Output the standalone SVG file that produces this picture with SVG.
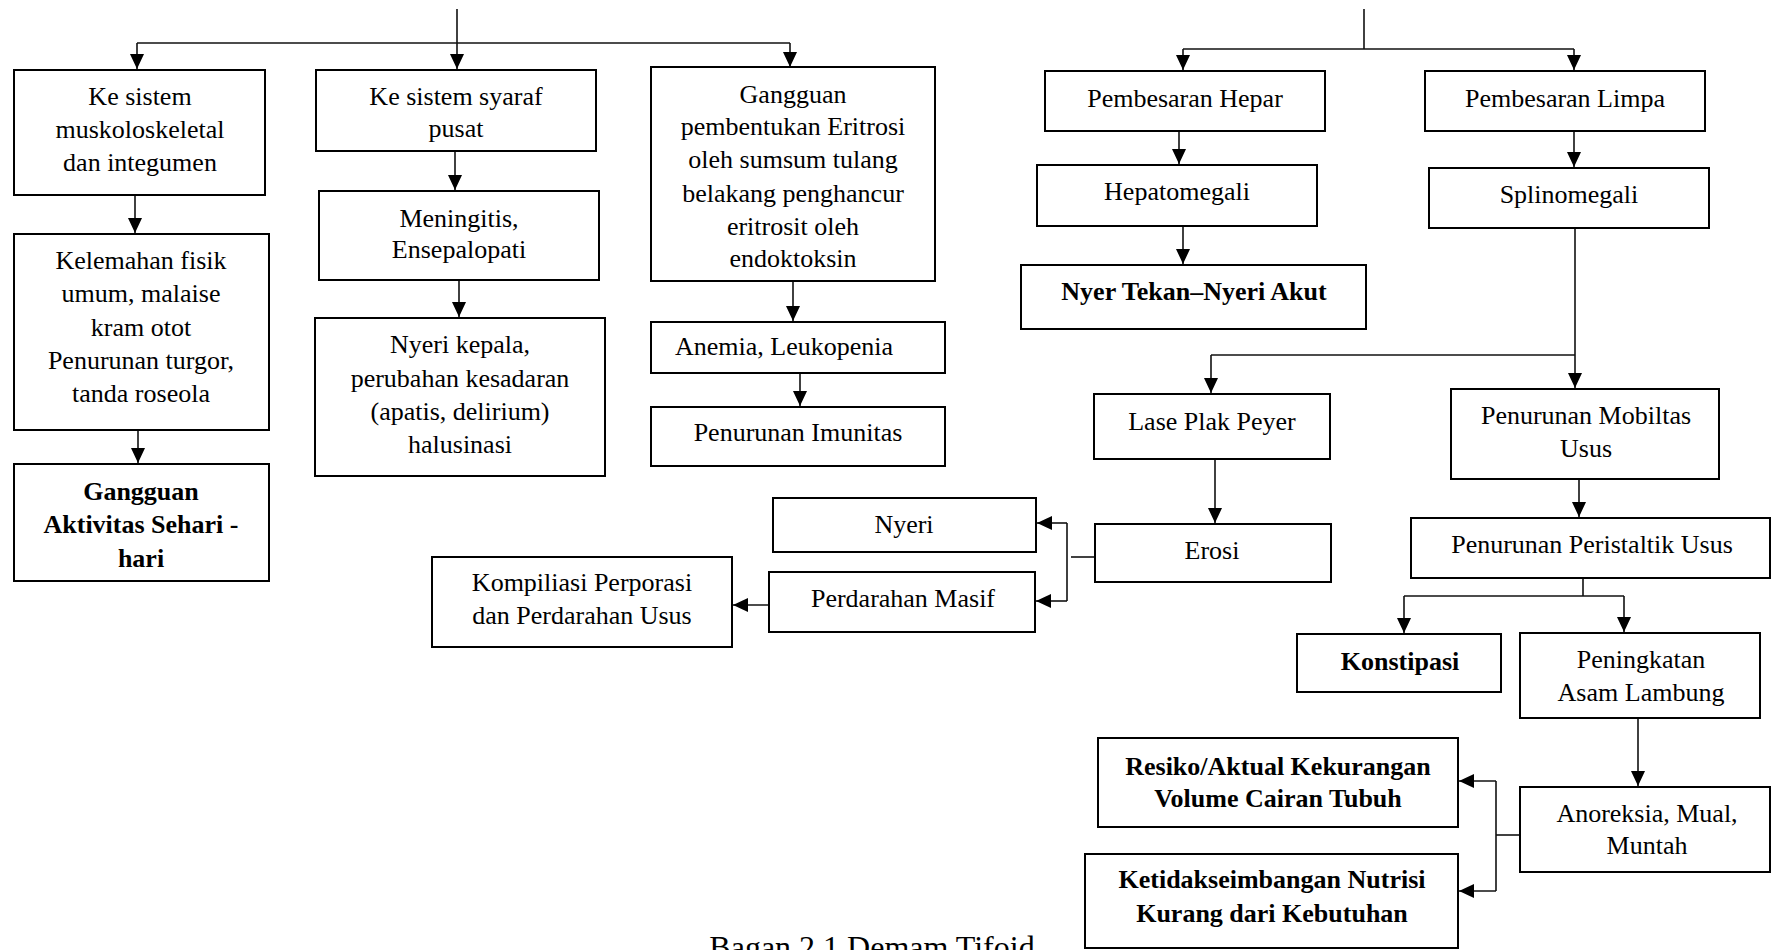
<svg xmlns="http://www.w3.org/2000/svg" width="1771" height="950" viewBox="0 0 1771 950">
<style>
.box{fill:#fff;stroke:#000;stroke-width:2}
.t{font-family:"Liberation Serif","Times New Roman",serif;font-size:26px;fill:#000;text-anchor:middle}
.b{font-weight:bold}
.c{fill:none;stroke:#111;stroke-width:1.6}
.a{fill:none;stroke:#111;stroke-width:1.6;marker-end:url(#ah)}
</style>
<defs>
<marker id="ah" viewBox="0 0 15 14" refX="15" refY="7" markerWidth="15" markerHeight="14" markerUnits="userSpaceOnUse" orient="auto">
<path d="M0,0 L15,7 L0,14 z" fill="#000"/>
</marker>
</defs>
<rect width="1771" height="950" fill="#fff"/>
<g id="connectors">
<line class="a" x1="457" y1="9" x2="457" y2="69"/>
<line class="c" x1="137" y1="43" x2="790" y2="43"/>
<line class="a" x1="137" y1="43" x2="137" y2="69"/>
<line class="a" x1="790" y1="43" x2="790" y2="67"/>
<line class="a" x1="135" y1="195" x2="135" y2="233"/>
<line class="a" x1="138" y1="430" x2="138" y2="463"/>
<line class="a" x1="455" y1="150" x2="455" y2="190"/>
<line class="a" x1="459" y1="280" x2="459" y2="317"/>
<line class="a" x1="793" y1="281" x2="793" y2="321"/>
<line class="a" x1="800" y1="373" x2="800" y2="406"/>
<line class="c" x1="1364" y1="9" x2="1364" y2="49"/>
<line class="c" x1="1183" y1="49" x2="1574" y2="49"/>
<line class="a" x1="1183" y1="49" x2="1183" y2="70"/>
<line class="a" x1="1574" y1="49" x2="1574" y2="70"/>
<line class="a" x1="1179" y1="128" x2="1179" y2="164"/>
<line class="a" x1="1574" y1="131" x2="1574" y2="167"/>
<line class="a" x1="1183" y1="226" x2="1183" y2="264"/>
<line class="a" x1="1575" y1="228" x2="1575" y2="388"/>
<line class="c" x1="1211" y1="355" x2="1575" y2="355"/>
<line class="a" x1="1211" y1="355" x2="1211" y2="393"/>
<line class="a" x1="1215" y1="459" x2="1215" y2="523"/>
<line class="a" x1="1579" y1="479" x2="1579" y2="517"/>
<line class="c" x1="1583" y1="578" x2="1583" y2="596"/>
<line class="c" x1="1404" y1="596" x2="1624" y2="596"/>
<line class="a" x1="1404" y1="596" x2="1404" y2="633"/>
<line class="a" x1="1624" y1="596" x2="1624" y2="632"/>
<line class="a" x1="1638" y1="718" x2="1638" y2="786"/>
<line class="c" x1="1095" y1="557" x2="1071" y2="557"/>
<line class="c" x1="1067" y1="523" x2="1067" y2="601"/>
<line class="a" x1="1067" y1="523" x2="1037" y2="523"/>
<line class="a" x1="1067" y1="601" x2="1036" y2="601"/>
<line class="a" x1="769" y1="605" x2="733" y2="605"/>
<line class="c" x1="1520" y1="835" x2="1496" y2="835"/>
<line class="c" x1="1496" y1="781" x2="1496" y2="891"/>
<line class="a" x1="1496" y1="781" x2="1459" y2="781"/>
<line class="a" x1="1496" y1="891" x2="1459" y2="891"/>
</g>
<g id="n_muskulo"><rect class="box" x="14" y="70" width="251" height="125"/>
<text class="t" x="140" y="105">Ke sistem</text><text class="t" x="140" y="138">muskoloskeletal</text><text class="t" x="140" y="171">dan integumen</text></g>
<g id="n_kelemahan"><rect class="box" x="14" y="234" width="255" height="196"/>
<text class="t" x="141" y="269">Kelemahan fisik</text><text class="t" x="141" y="302">umum, malaise</text><text class="t" x="141" y="336">kram otot</text><text class="t" x="141" y="369">Penurunan turgor,</text><text class="t" x="141" y="402">tanda roseola</text></g>
<g id="n_aktivitas"><rect class="box" x="14" y="464" width="255" height="117"/>
<text class="t b" x="141" y="500">Gangguan</text><text class="t b" x="141" y="533">Aktivitas Sehari -</text><text class="t b" x="141" y="567">hari</text></g>
<g id="n_syaraf"><rect class="box" x="316" y="70" width="280" height="81"/>
<text class="t" x="456" y="105">Ke sistem syaraf</text><text class="t" x="456" y="137">pusat</text></g>
<g id="n_meningitis"><rect class="box" x="319" y="191" width="280" height="89"/>
<text class="t" x="459" y="227">Meningitis,</text><text class="t" x="459" y="258">Ensepalopati</text></g>
<g id="n_nyerikepala"><rect class="box" x="315" y="318" width="290" height="158"/>
<text class="t" x="460" y="353">Nyeri kepala,</text><text class="t" x="460" y="387">perubahan kesadaran</text><text class="t" x="460" y="420">(apatis, delirium)</text><text class="t" x="460" y="453">halusinasi</text></g>
<g id="n_eritrosi"><rect class="box" x="651" y="67" width="284" height="214"/>
<text class="t" x="793" y="103">Gangguan</text><text class="t" x="793" y="135">pembentukan Eritrosi</text><text class="t" x="793" y="168">oleh sumsum tulang</text><text class="t" x="793" y="202">belakang penghancur</text><text class="t" x="793" y="235">eritrosit oleh</text><text class="t" x="793" y="267">endoktoksin</text></g>
<g id="n_anemia"><rect class="box" x="651" y="322" width="294" height="51"/>
<text class="t" x="784" y="355">Anemia, Leukopenia</text></g>
<g id="n_imunitas"><rect class="box" x="651" y="407" width="294" height="59"/>
<text class="t" x="798" y="441">Penurunan Imunitas</text></g>
<g id="n_hepar"><rect class="box" x="1045" y="71" width="280" height="60"/>
<text class="t" x="1185" y="107">Pembesaran Hepar</text></g>
<g id="n_limpa"><rect class="box" x="1425" y="71" width="280" height="60"/>
<text class="t" x="1565" y="107">Pembesaran Limpa</text></g>
<g id="n_hepatomegali"><rect class="box" x="1037" y="165" width="280" height="61"/>
<text class="t" x="1177" y="200">Hepatomegali</text></g>
<g id="n_splinomegali"><rect class="box" x="1429" y="168" width="280" height="60"/>
<text class="t" x="1569" y="203">Splinomegali</text></g>
<g id="n_nyeriakut"><rect class="box" x="1021" y="265" width="345" height="64"/>
<text class="t b" x="1194" y="300">Nyer Tekan–Nyeri Akut</text></g>
<g id="n_plak"><rect class="box" x="1094" y="394" width="236" height="65"/>
<text class="t" x="1212" y="430">Lase Plak Peyer</text></g>
<g id="n_erosi"><rect class="box" x="1095" y="524" width="236" height="58"/>
<text class="t" x="1212" y="559">Erosi</text></g>
<g id="n_mobilitas"><rect class="box" x="1451" y="389" width="268" height="90"/>
<text class="t" x="1586" y="424">Penurunan Mobiltas</text><text class="t" x="1586" y="457">Usus</text></g>
<g id="n_peristaltik"><rect class="box" x="1411" y="518" width="359" height="60"/>
<text class="t" x="1592" y="553">Penurunan Peristaltik Usus</text></g>
<g id="n_konstipasi"><rect class="box" x="1297" y="634" width="204" height="58"/>
<text class="t b" x="1400" y="670">Konstipasi</text></g>
<g id="n_asam"><rect class="box" x="1520" y="633" width="240" height="85"/>
<text class="t" x="1641" y="668">Peningkatan</text><text class="t" x="1641" y="701">Asam Lambung</text></g>
<g id="n_anoreksia"><rect class="box" x="1520" y="787" width="250" height="85"/>
<text class="t" x="1647" y="822">Anoreksia, Mual,</text><text class="t" x="1647" y="854">Muntah</text></g>
<g id="n_cairan"><rect class="box" x="1098" y="738" width="360" height="89"/>
<text class="t b" x="1278" y="775">Resiko/Aktual Kekurangan</text><text class="t b" x="1278" y="807">Volume Cairan Tubuh</text></g>
<g id="n_nutrisi"><rect class="box" x="1085" y="854" width="373" height="94"/>
<text class="t b" x="1272" y="888">Ketidakseimbangan Nutrisi</text><text class="t b" x="1272" y="922">Kurang dari Kebutuhan</text></g>
<g id="n_nyeri"><rect class="box" x="773" y="498" width="263" height="54"/>
<text class="t" x="904" y="533">Nyeri</text></g>
<g id="n_perdarahan"><rect class="box" x="769" y="572" width="266" height="60"/>
<text class="t" x="903" y="607">Perdarahan Masif</text></g>
<g id="n_kompilasi"><rect class="box" x="432" y="557" width="300" height="90"/>
<text class="t" x="582" y="591">Kompiliasi Perporasi</text><text class="t" x="582" y="624">dan Perdarahan Usus</text></g>
<text class="t" x="872" y="958" style="font-size:32px">Bagan 2.1 Demam Tifoid</text>
</svg>
